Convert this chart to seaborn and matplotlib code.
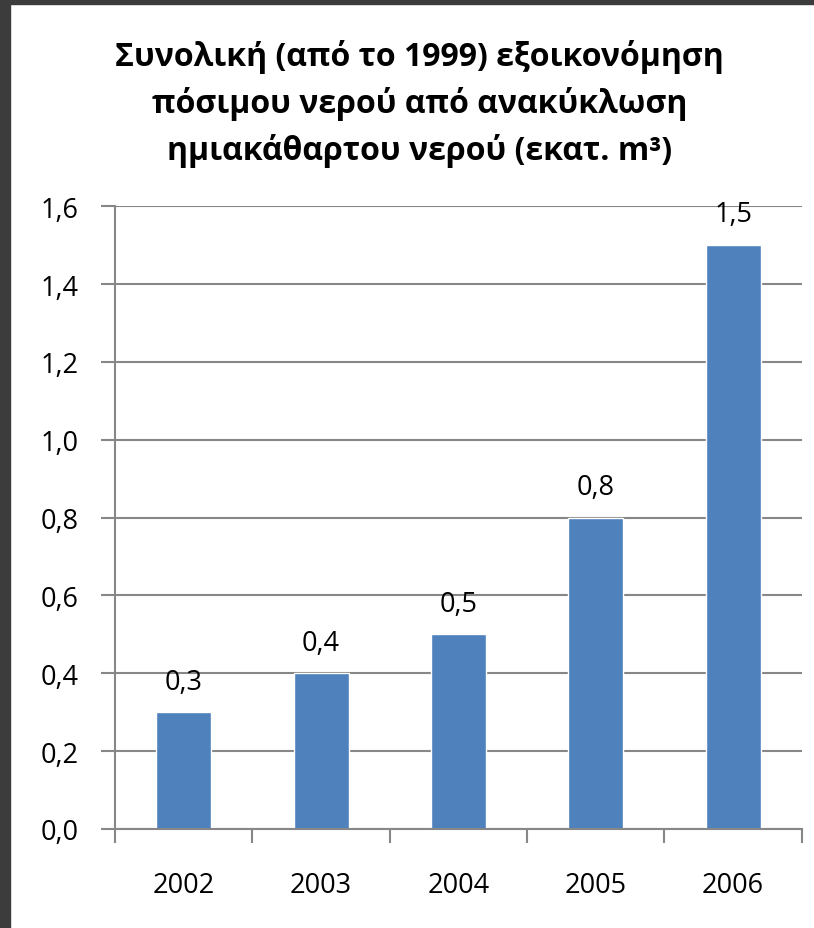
import matplotlib
matplotlib.use("Agg")
import matplotlib.pyplot as plt
import seaborn as sns
import pandas as pd
from matplotlib.patches import Rectangle
from matplotlib.ticker import FixedLocator

years = ["2002", "2003", "2004", "2005", "2006"]
savings = [0.3, 0.4, 0.5, 0.8, 1.5]
y_ticks = [0.0, 0.2, 0.4, 0.6, 0.8, 1.0, 1.2, 1.4, 1.6]
title = ("Συνολική (από το 1999) εξοικονόμηση\n"
         "πόσιμου νερού από ανακύκλωση\n"
         "ημιακάθαρτου νερού (εκατ. m³)")

sns.set_style("white")
plt.rcParams["font.family"] = ["Open Sans", "DejaVu Sans"]
plt.rcParams["text.color"] = "black"
plt.rcParams["xtick.labelcolor"] = "black"
plt.rcParams["ytick.labelcolor"] = "black"

df = pd.DataFrame({"year": years, "value": savings})

fig = plt.figure(figsize=(8.14, 9.29), dpi=100)
ax = fig.add_axes([0.1413, 0.1066, 0.985 - 0.1413, 0.777 - 0.1066])

sns.barplot(data=df, x="year", y="value", color="#4F81BD", saturation=1,
            width=0.4, ax=ax)

ax.set_ylim(0, 1.6)
ax.set_xlim(-0.5, 4.5)
ax.set_yticks(y_ticks)
ax.set_yticklabels([f"{v:.1f}".replace(".", ",") for v in y_ticks], fontsize=19.5)
ax.tick_params(axis="y", length=10, width=1.5, color="#878787", pad=16,
               left=True, labelcolor="black")
ax.tick_params(axis="x", which="major", length=0, labelsize=19.5, pad=30,
               labelcolor="black")
ax.xaxis.set_minor_locator(FixedLocator([i - 0.5 for i in range(len(years) + 1)]))
ax.tick_params(axis="x", which="minor", length=10, width=1.5, color="#878787",
               bottom=True)
ax.set_xlabel("")
ax.set_ylabel("")

ax.yaxis.grid(True, color="#878787", linewidth=1.5)
ax.set_axisbelow(True)
for s in ["top", "right"]:
    ax.spines[s].set_visible(False)
for s in ["left", "bottom"]:
    ax.spines[s].set_color("#878787")
    ax.spines[s].set_linewidth(1.5)

ax.bar_label(ax.containers[0],
             labels=[f"{v:.1f}".replace(".", ",") for v in savings],
             padding=12, fontsize=19.5, color="black")

fig.text(0.515, 0.957, title, ha="center", va="top", fontsize=23,
         fontweight="bold", linespacing=1.5, color="black")

# dark frame at left and top edges
fig.patches.append(Rectangle((0, 0), 10 / 814, 1, transform=fig.transFigure,
                             color="#3c3c3c", zorder=10))
fig.patches.append(Rectangle((0, 1 - 5 / 929), 1, 5 / 929,
                             transform=fig.transFigure, color="#3c3c3c",
                             zorder=10))

fig.savefig("out.png", dpi=100)
